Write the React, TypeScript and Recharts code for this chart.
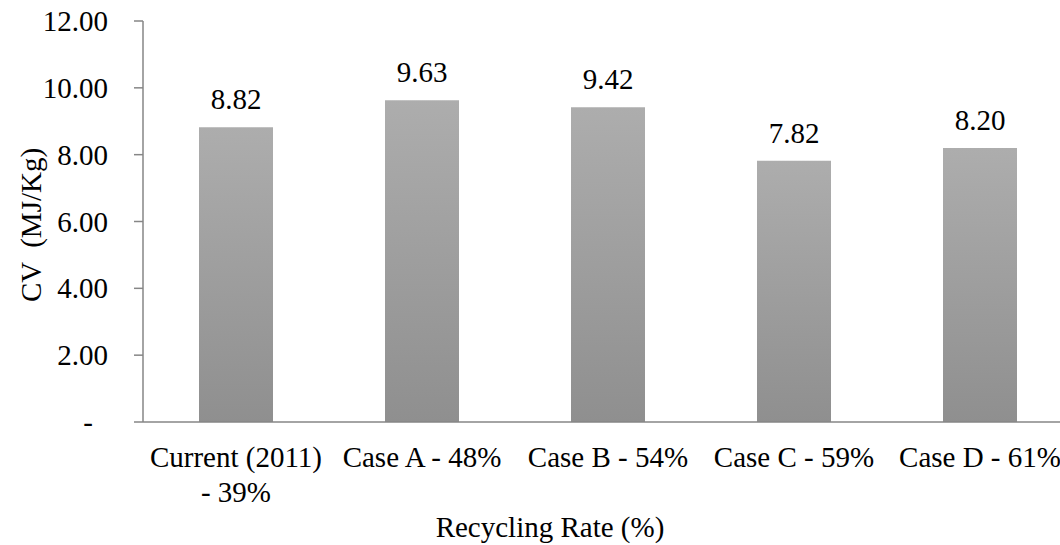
import React from 'react';
import { BarChart, Bar, XAxis, YAxis, LabelList, Label } from 'recharts';

const categories = ['Current (2011)\n- 39%', 'Case A - 48%', 'Case B - 54%', 'Case C - 59%', 'Case D - 61%'];
const cvValues = [8.82, 9.63, 9.42, 7.82, 8.2];
const yTicks = [0, 2, 4, 6, 8, 10, 12];

const data = categories.map((name, i) => ({ name, cv: cvValues[i] }));

const FONT = '"Liberation Serif", "Times New Roman", serif';
const AXIS = '#868686';

const XTick = (props: any) => {
  const { x, y, payload } = props;
  const lines = String(payload.value).split('\n');
  return (
    <g>
      {lines.map((l, i) => (
        <text key={i} x={x} y={y + 45 + i * 35} textAnchor="middle" fontFamily={FONT} fontSize={29} fill="#000">
          {l}
        </text>
      ))}
    </g>
  );
};

const YTick = (props: any) => {
  const { x, y, payload } = props;
  const v = payload.value;
  return (
    <text x={v === 0 ? x - 15 : x} y={y} dy="0.35em" textAnchor="end" fontFamily={FONT} fontSize={29} fill="#000">
      {v === 0 ? '-' : v.toFixed(2)}
    </text>
  );
};

export default function App() {
  return (
    <div style={{ position: 'fixed', left: 0, top: 0, width: 1060, height: 545, overflow: 'hidden', background: '#fff' }}>
      <BarChart width={1078} height={545} data={data} margin={{ top: 21, right: 5, left: 0, bottom: 0 }}>
        <defs>
          <linearGradient id="barGrad" x1="0" y1="0" x2="0" y2="1">
            <stop offset="0%" stopColor="#adadad" />
            <stop offset="100%" stopColor="#8f8f8f" />
          </linearGradient>
        </defs>
        <XAxis
          dataKey="name"
          stroke={AXIS}
          strokeWidth={1.5}
          tickLine={false}
          tickSize={0}
          tickMargin={0}
          tick={<XTick />}
          interval={0}
          height={123}
        >
          <Label
            content={() => (
              <text x={550} y={537} textAnchor="middle" fontFamily={FONT} fontSize={29} fill="#000">
                Recycling Rate (%)
              </text>
            )}
          />
        </XAxis>
        <YAxis
          domain={[0, 12]}
          ticks={yTicks}
          width={143}
          stroke={AXIS}
          strokeWidth={1.5}
          tickSize={9}
          tickMargin={26}
          tick={<YTick />}
          interval={0}
        >
          <Label
            content={() => (
              <text
                x={41}
                y={225}
                transform="rotate(-90 41 225)"
                textAnchor="middle"
                fontFamily={FONT}
                fontSize={29}
                fill="#000"
                style={{ whiteSpace: 'pre' }}
              >
                CV  (MJ/Kg)
              </text>
            )}
          />
        </YAxis>
        <Bar dataKey="cv" fill="url(#barGrad)" barSize={74} isAnimationActive={false}>
          <LabelList
            dataKey="cv"
            position="top"
            offset={18}
            formatter={(v: any) => Number(v).toFixed(2)}
            style={{ fontFamily: FONT, fontSize: 29, fill: '#000' }}
          />
        </Bar>
      </BarChart>
    </div>
  );
}
